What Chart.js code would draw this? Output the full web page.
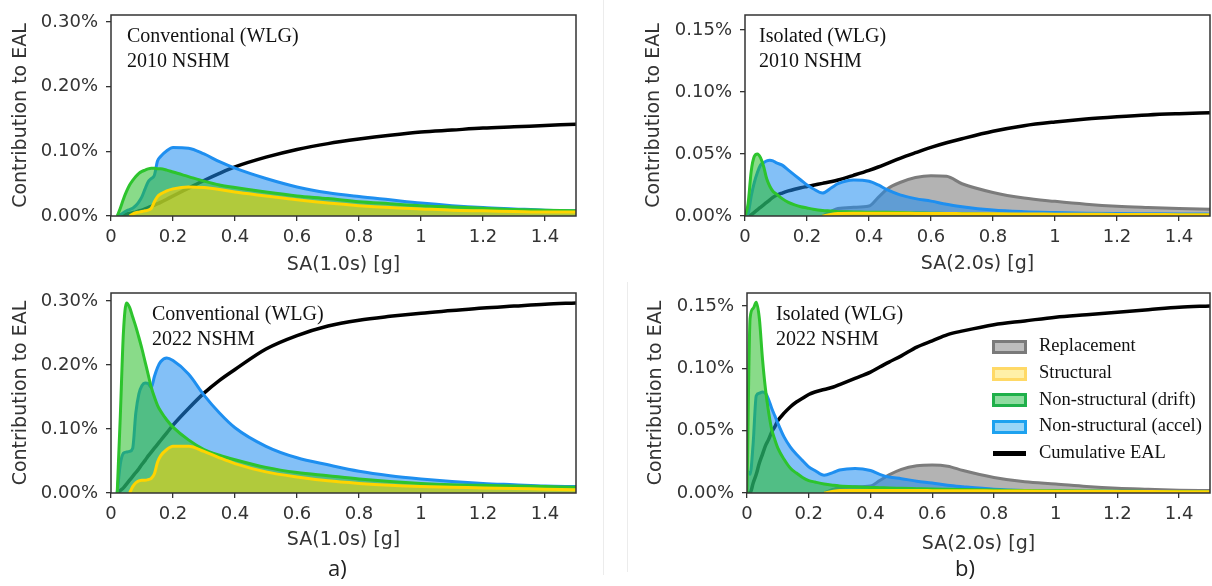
<!DOCTYPE html>
<html>
<head>
<meta charset="utf-8">
<script src="https://cdn.jsdelivr.net/npm/chart.js@4.4.1/dist/chart.umd.min.js"></script>
<style>
  body { margin: 0; background: #fff; width: 1212px; height: 586px; position: relative; overflow: hidden; }
  canvas { position: absolute; }
  .note { position: absolute; font-family: "Liberation Serif", serif; font-size: 20px; color: #111; line-height: 25px; white-space: nowrap; }
  .legend { position: absolute; left: 992px; top: 332px; font-family: "Liberation Serif", serif; font-size: 18.5px; color: #111; }
  .legend div { height: 26.8px; line-height: 26.8px; white-space: nowrap; }
  .legend span { display: inline-block; vertical-align: middle; margin-right: 12px; box-sizing: border-box; width: 35px; height: 14px; }
  .tag { position: absolute; font-family: "Open Sans", sans-serif; font-size: 22px; color: #222; }
  .sep { position: absolute; width: 1px; background: #ececec; }
</style>
</head>
<body>
<div class="sep" style="left:603px;top:0;height:575px"></div>
<div class="sep" style="left:627px;top:282px;height:290px"></div>

<canvas id="tl" width="600" height="280" style="left:0;top:0"></canvas>
<canvas id="bl" width="600" height="280" style="left:0;top:280px"></canvas>
<canvas id="tr" width="592" height="280" style="left:620px;top:0"></canvas>
<canvas id="br" width="592" height="280" style="left:620px;top:280px"></canvas>

<div class="note" style="left:127px;top:23px">Conventional (WLG)<br>2010 NSHM</div>
<div class="note" style="left:152px;top:301px">Conventional (WLG)<br>2022 NSHM</div>
<div class="note" style="left:759px;top:23px">Isolated (WLG)<br>2010 NSHM</div>
<div class="note" style="left:776px;top:301px">Isolated (WLG)<br>2022 NSHM</div>

<div class="legend">
  <div><span style="background:#bdbdbd;border:3px solid #7a7a7a"></span>Replacement</div>
  <div><span style="background:#fff0a8;border:3px solid #ffd966"></span>Structural</div>
  <div><span style="background:#8fdca0;border:3px solid #1fb04a"></span>Non-structural (drift)</div>
  <div><span style="background:#9ad6f7;border:3px solid #1ea2ef"></span>Non-structural (accel)</div>
  <div><span style="height:5px;background:#000;width:33px;margin-left:1px;margin-right:13px"></span>Cumulative EAL</div>
</div>

<div class="tag" style="left:328px;top:552px">a)</div>
<div class="tag" style="left:955px;top:552px">b)</div>

<script>
// spectral acceleration grids [g]
const saLeft = [0, .02, .03, .04, .05, .06, .07, .08, .09, .10, .11, .12, .13, .14, .15, .16, .18, .20, .25, .30, .35, .40, .50, .60, .70, .80, .90, 1.0, 1.1, 1.2, 1.3, 1.4, 1.5];
const saRight = [0, .01, .02, .03, .04, .05, .06, .07, .08, .09, .10, .12, .14, .16, .18, .20, .22, .25, .28, .30, .35, .40, .43, .46, .50, .55, .60, .65, .70, .80, .90, 1.0, 1.1, 1.2, 1.3, 1.4, 1.5];

// tick values
const xTicks = [0, 0.2, 0.4, 0.6, 0.8, 1, 1.2, 1.4];
const yTicksConv = [0, 0.1, 0.2, 0.3];
const yTicksIso = [0, 0.05, 0.1, 0.15];

// a) Conventional, 2010 NSHM  (contribution to EAL, %)
const tlAccel = [null, 0, .002, .005, .008, .01, .012, .016, .022, .03, .042, .053, .058, .063, .085, .092, .101, .106, .105, .096, .084, .074, .058, .045, .036, .03, .025, .02, .016, .013, .011, .009, .008];
const tlDrift = [null, 0, .012, .026, .038, .048, .055, .061, .066, .069, .071, .073, .074, .074, .073, .073, .071, .068, .061, .054, .048, .044, .037, .031, .027, .022, .019, .016, .014, .012, .01, .009, .008];
const tlStructural = [null, null, null, null, null, 0, .003, .005, .006, .007, .008, .009, .012, .022, .03, .034, .039, .042, .045, .044, .041, .037, .031, .025, .02, .016, .013, .011, .009, .008, .007, .006, .006];
const tlCumulative = [null, 0, .001, .002, .003, .004, .005, .006, .008, .009, .011, .013, .015, .017, .019, .021, .026, .031, .043, .055, .066, .076, .091, .103, .112, .119, .125, .13, .133, .136, .138, .14, .142];

// a) Conventional, 2022 NSHM
const blAccel = [null, 0, .045, .062, .064, .065, .07, .125, .155, .168, .172, .171, .165, .182, .196, .205, .211, .207, .186, .153, .125, .102, .073, .055, .044, .034, .027, .022, .018, .015, .013, .011, .01];
const blDrift = [null, 0, .12, .25, .297, .29, .275, .26, .243, .225, .205, .185, .165, .15, .137, .128, .114, .103, .083, .068, .059, .052, .04, .032, .027, .022, .018, .015, .013, .012, .011, .01, .009];
const blStructural = [null, null, null, null, null, 0, .01, .016, .019, .02, .02, .021, .023, .03, .048, .058, .068, .073, .073, .065, .055, .046, .033, .025, .019, .015, .012, .01, .009, .008, .007, .006, .005];
const blCumulative = [null, 0, .004, .008, .014, .02, .026, .032, .038, .045, .051, .058, .064, .07, .076, .082, .094, .106, .132, .156, .176, .193, .225, .246, .261, .27, .276, .281, .285, .289, .292, .295, .297];

// b) Isolated, 2010 NSHM
const trAccel = [0, .002, .016, .027, .035, .041, .043, .0445, .045, .0445, .043, .041, .037, .033, .029, .025, .022, .0185, .023, .026, .029, .028, .025, .021, .017, .014, .012, .0095, .0075, .0048, .0035, .0028, .0023, .002, .0018, .0016, .0015];
const trDrift = [0, .01, .036, .048, .05, .047, .04, .03, .024, .02, .018, .014, .011, .009, .0075, .0065, .0055, .0045, .004, .0035, .0033, .003, .003, .003, .0028, .0025, .0023, .002, .0018, .0015, .0013, .0012, .001, .001, .0009, .0008, .0008];
const trReplacement = [null, null, null, null, null, null, null, null, null, null, null, null, null, null, null, null, null, 0, .004, .006, .007, .008, .015, .022, .027, .031, .0325, .032, .026, .019, .0145, .0118, .0095, .0078, .0068, .006, .0055];
const trStructural = [null, null, null, null, null, null, null, null, null, null, null, null, null, null, null, null, null, 0, .0015, .002, .0022, .0022, .0022, .0022, .0022, .0021, .002, .002, .0019, .0018, .0016, .0015, .0014, .0013, .0012, .0011, .001];
const trCumulative = [0, 0, .001, .003, .005, .007, .009, .011, .013, .015, .0165, .0185, .0202, .0216, .0228, .0238, .0248, .0263, .0278, .029, .0328, .0368, .0395, .0425, .0465, .051, .0553, .059, .0623, .0683, .0728, .0758, .0782, .08, .0815, .0825, .0833];

// b) Isolated, 2022 NSHM
const brAccel = [.018, .015, .04, .078, .08, .081, .08, .075, .068, .062, .056, .045, .037, .031, .026, .021, .018, .0142, .0165, .0184, .0197, .018, .015, .0128, .0115, .0095, .008, .0062, .005, .003, .002, .0016, .0014, .0012, .001, .001, .0009];
const brDrift = [0, .14, .148, .153, .14, .108, .083, .065, .051, .043, .036, .027, .02, .016, .0125, .01, .0088, .0072, .0062, .0057, .005, .0045, .0043, .004, .0038, .0035, .0032, .003, .0028, .0024, .002, .0018, .0016, .0014, .0013, .0012, .0011];
const brReplacement = [null, null, null, null, null, null, null, null, null, null, null, null, null, null, null, null, null, 0, .003, .0045, .005, .0056, .01, .0145, .019, .0218, .0224, .0215, .018, .0125, .009, .0072, .0052, .0038, .003, .0023, .002];
const brStructural = [null, null, null, null, null, null, null, null, null, null, null, null, null, null, null, null, null, 0, .0015, .002, .002, .002, .002, .002, .002, .002, .0019, .0018, .0018, .0017, .0016, .0015, .0014, .0013, .0012, .0011, .001];
const brCumulative = [0, 0, .008, .015, .024, .031, .038, .043, .049, .053, .058, .064, .069, .073, .076, .079, .081, .083, .085, .087, .092, .097, .101, .105, .11, .117, .122, .127, .13, .135, .138, .141, .143, .145, .147, .149, .15];

const styles = {
  cumulative: { borderColor: '#000', borderWidth: 3.5, fill: false, order: 5 },
  replacement: { borderColor: '#7c7c7c', backgroundColor: 'rgba(128,128,128,0.6)', borderWidth: 3, fill: 'origin', order: 4 },
  accel: { borderColor: '#1e8ff0', backgroundColor: 'rgba(30,140,240,0.55)', borderWidth: 3, fill: 'origin', order: 3 },
  drift: { borderColor: '#2dc42d', backgroundColor: 'rgba(40,190,40,0.55)', borderWidth: 3, fill: 'origin', order: 2 },
  structural: { borderColor: '#ffd400', backgroundColor: 'rgba(255,212,0,0.55)', borderWidth: 3, fill: 'origin', order: 1 }
};

const frame = {
  id: 'frame',
  afterDatasetsDraw(chart) {
    const a = chart.chartArea, c = chart.ctx;
    c.save();
    c.strokeStyle = '#333';
    c.lineWidth = 1.5;
    c.strokeRect(a.left, a.top, a.right - a.left, a.bottom - a.top);
    c.restore();
  }
};

const tickFont = { family: 'DejaVu Sans', size: 18 };
const titleFont = { family: 'DejaVu Sans', size: 19 };

function makeChart(id, sa, series, opt) {
  const datasets = series.map(([kind, vals]) => Object.assign({
    data: sa.map((x, i) => ({ x: x, y: vals[i] })),
    pointRadius: 0,
    cubicInterpolationMode: 'monotone',
    spanGaps: false
  }, styles[kind]));
  return new Chart(document.getElementById(id), {
    type: 'line',
    data: { datasets: datasets },
    plugins: [frame],
    options: {
      responsive: false,
      animation: false,
      devicePixelRatio: 1,
      layout: { padding: { top: opt.padTop, right: opt.padRight, left: 0, bottom: 0 } },
      plugins: { legend: { display: false }, tooltip: { enabled: false } },
      scales: {
        x: {
          type: 'linear', min: 0, max: 1.5,
          afterBuildTicks: s => { s.ticks = xTicks.map(v => ({ value: v })); },
          afterFit: s => { s.height = opt.xHeight; s.paddingLeft = 0; s.paddingRight = 0; },
          ticks: { font: tickFont, color: '#333', padding: 6, maxRotation: 0, autoSkip: false,
                   callback: v => String(+v.toFixed(2)) },
          grid: { drawOnChartArea: false, tickLength: 5, color: '#333', lineWidth: 1.3 },
          border: { display: false },
          title: { display: true, text: opt.xTitle, font: titleFont, color: '#333', padding: { top: 0, bottom: opt.xTitlePad } }
        },
        y: {
          type: 'linear', min: 0, max: opt.yMax,
          afterBuildTicks: s => { s.ticks = opt.yTicks.map(v => ({ value: v })); },
          afterFit: s => { s.width = opt.yWidth; s.paddingTop = 0; s.paddingBottom = 0; },
          ticks: { font: tickFont, color: '#333', padding: 8, autoSkip: false,
                   callback: v => v.toFixed(2) + '%' },
          grid: { drawOnChartArea: false, tickLength: 5, color: '#333', lineWidth: 1.3 },
          border: { display: false },
          title: { display: true, text: 'Contribution to EAL', font: titleFont, color: '#333', padding: { top: opt.yTitlePad, bottom: 0 } }
        }
      }
    }
  });
}

makeChart('tl', saLeft, [
  ['cumulative', tlCumulative], ['accel', tlAccel], ['drift', tlDrift], ['structural', tlStructural]
], { yMax: 0.311, yTicks: yTicksConv, xTitle: 'SA(1.0s) [g]', yWidth: 111, xHeight: 64, padTop: 15, padRight: 24, yTitlePad: 10, xTitlePad: 4 });

makeChart('bl', saLeft, [
  ['cumulative', blCumulative], ['accel', blAccel], ['drift', blDrift], ['structural', blStructural]
], { yMax: 0.3125, yTicks: yTicksConv, xTitle: 'SA(1.0s) [g]', yWidth: 111, xHeight: 67, padTop: 13, padRight: 24, yTitlePad: 10, xTitlePad: 8.5 });

makeChart('tr', saRight, [
  ['cumulative', trCumulative], ['replacement', trReplacement], ['accel', trAccel], ['drift', trDrift], ['structural', trStructural]
], { yMax: 0.162, yTicks: yTicksIso, xTitle: 'SA(2.0s) [g]', yWidth: 125, xHeight: 64, padTop: 15, padRight: 2, yTitlePad: 23, xTitlePad: 4.5 });

makeChart('br', saRight, [
  ['cumulative', brCumulative], ['replacement', brReplacement], ['accel', brAccel], ['drift', brDrift], ['structural', brStructural]
], { yMax: 0.1604, yTicks: yTicksIso, xTitle: 'SA(2.0s) [g]', yWidth: 127, xHeight: 67, padTop: 13, padRight: 2, yTitlePad: 25, xTitlePad: 5 });
</script>
</body>
</html>
